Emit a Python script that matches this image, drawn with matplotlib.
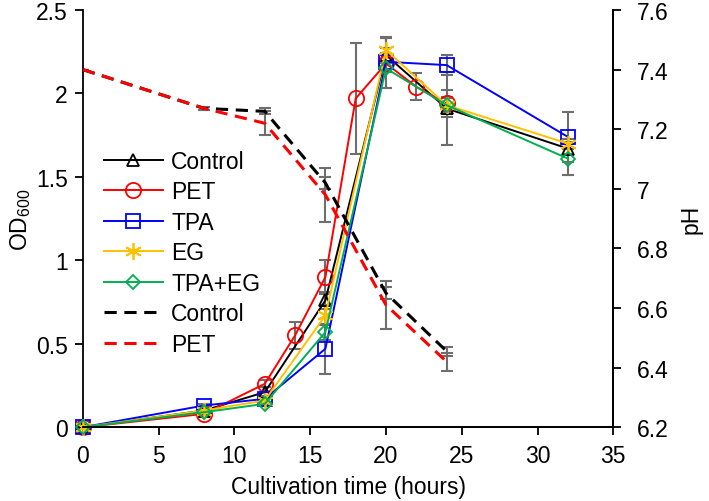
import matplotlib
matplotlib.use("Agg")
import matplotlib.pyplot as plt

plt.rcParams['font.family'] = ['Liberation Sans', 'DejaVu Sans']
plt.rcParams['mathtext.fontset'] = 'custom'
plt.rcParams['mathtext.rm'] = 'Liberation Sans'

# OD600 data (hours)
time_od = [0, 8, 12, 16, 20, 24, 32]
control_od = [0, 0.10, 0.21, 0.76, 2.23, 1.91, 1.67]
control_od_err = [0, 0.02, 0.03, 0.05, 0.10, 0.22, 0.03]
tpa_od = [0, 0.13, 0.17, 0.47, 2.19, 2.17, 1.74]
tpa_od_err = [0, 0.01, 0.02, 0.15, 0.05, 0.06, 0.15]
eg_od = [0, 0.10, 0.16, 0.67, 2.26, 1.93, 1.70]
eg_od_err = [0, 0.01, 0.02, 0.06, 0.08, 0.04, 0.03]
tpaeg_od = [0, 0.09, 0.14, 0.57, 2.15, 1.93, 1.61]
tpaeg_od_err = [0, 0.01, 0.01, 0.05, 0.12, 0.05, 0.10]

time_pet = [0, 8, 12, 14, 16, 18, 20, 22, 24]
pet_od = [0, 0.08, 0.26, 0.55, 0.90, 1.97, 2.18, 2.04, 1.94]
pet_od_err = [0, 0.01, 0.02, 0.08, 0.10, 0.33, 0.15, 0.08, 0.08]

# pH data
time_ph = [0, 8, 12, 16, 20, 24]
control_ph = [7.40, 7.27, 7.26, 7.02, 6.65, 6.455]
control_ph_err = [0, 0.005, 0.01, 0.02, 0.02, 0.015]
pet_ph = [7.40, 7.27, 7.22, 6.98, 6.61, 6.42]
pet_ph_err = [0, 0.005, 0.04, 0.09, 0.08, 0.03]

err_color = "#6e6e6e"
fs = 16.5

fig, ax = plt.subplots(figsize=(7.09, 5.02), dpi=100)
fig.subplots_adjust(left=0.117, right=0.865, top=0.978, bottom=0.147)
ax2 = ax.twinx()

series = [
    ("Control", time_od, control_od, control_od_err, "black", "^", 9),
    ("PET", time_pet, pet_od, pet_od_err, "red", "o", 11),
    ("TPA", time_od, tpa_od, tpa_od_err, "blue", "s", 10),
    ("EG", time_od, eg_od, eg_od_err, "#FFC000", (6, 2, 0), 12),
    ("TPA+EG", time_od, tpaeg_od, tpaeg_od_err, "#00B050", "D", 7.5),
]
handles = []
for name, t, y, e, c, m, ms in series:
    ax.errorbar(t, y, yerr=e, fmt="none", ecolor=err_color, elinewidth=1.5,
                capsize=4, capthick=1.5, zorder=2)
    h, = ax.plot(t, y, color=c, marker=m, markersize=ms, markerfacecolor="none",
                 markeredgecolor=c, markeredgewidth=1.3, linewidth=1.4,
                 label=name, zorder=3, clip_on=False)
    handles.append(h)

for name, t, y, e, c in [("Control", time_ph, control_ph, control_ph_err, "black"),
                         ("PET", time_ph, pet_ph, pet_ph_err, "red")]:
    ax2.errorbar(t, y, yerr=e, fmt="none", ecolor=err_color, elinewidth=1.5,
                 capsize=4, capthick=1.5, zorder=2)
    h, = ax2.plot(t, y, color=c, linestyle=(0, (4, 2.5)), linewidth=2.2,
                  label=name, zorder=3)
    handles.append(h)

ax.set_xlim(0, 35)
ax.set_ylim(0, 2.5)
ax2.set_ylim(6.2, 7.6)
ax.set_xticks([0, 5, 10, 15, 20, 25, 30, 35])
ax.set_yticks([0, 0.5, 1, 1.5, 2, 2.5])
ax.set_yticklabels(["0", "0.5", "1", "1.5", "2", "2.5"])
ph_ticks = [6.2, 6.4, 6.6, 6.8, 7.0, 7.2, 7.4, 7.6]
ax2.set_yticks(ph_ticks)
ax2.set_yticklabels(["6.2", "6.4", "6.6", "6.8", "7", "7.2", "7.4", "7.6"])

for a in (ax, ax2):
    a.spines["top"].set_visible(False)
    for s in a.spines.values():
        s.set_linewidth(1.3)
    a.tick_params(direction="out", length=6, width=1.3, labelsize=fs)
ax.tick_params(axis="y", pad=5)
ax.tick_params(axis="x", pad=6)
ax2.tick_params(axis="y", pad=11)
ax2.spines["left"].set_visible(False)

ax.set_xlabel("Cultivation time (hours)", fontsize=fs, labelpad=6)
ax.set_ylabel(r"OD$_{600}$", fontsize=fs, labelpad=2)
ax2.set_ylabel("pH", fontsize=fs, labelpad=8)

ax2.legend(handles=handles, loc="upper left", bbox_to_anchor=(0.0, 0.715),
           frameon=False, fontsize=fs, handlelength=2.6, labelspacing=0.33,
           handletextpad=0.35)

fig.savefig("out.png", dpi=100)
